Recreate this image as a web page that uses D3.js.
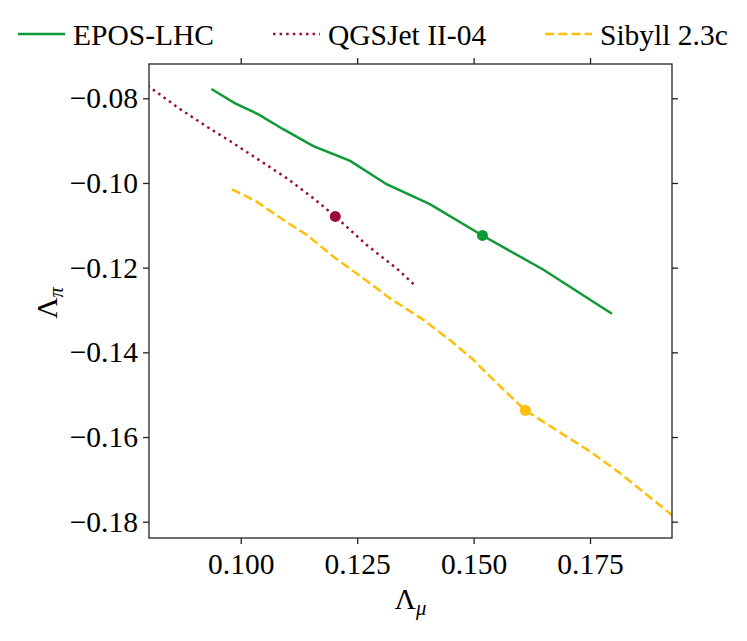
<!DOCTYPE html>
<html>
<head>
<meta charset="utf-8">
<script src="https://cdn.jsdelivr.net/npm/d3@7"></script>
<style>
  html, body { margin: 0; padding: 0; background: #fff; }
</style>
</head>
<body>
<div id="chart"></div>
<script>
// values
const eposMu = [0.0937, 0.0988, 0.1038, 0.1091, 0.1156, 0.1235, 0.1313, 0.1406, 0.1519, 0.1650, 0.1797];
const eposPi = [-0.0778, -0.0812, -0.0838, -0.0873, -0.0913, -0.0948, -0.1003, -0.1050, -0.1124, -0.1205, -0.1309];
const qgsMu = [0.0800, 0.0869, 0.0930, 0.0977, 0.1034, 0.1099, 0.1156, 0.1203, 0.1270, 0.1337, 0.1374];
const qgsPi = [-0.0770, -0.0825, -0.0869, -0.0901, -0.0942, -0.0989, -0.1036, -0.1079, -0.1146, -0.1204, -0.1242];
const sibMu = [0.0981, 0.1034, 0.1091, 0.1142, 0.1199, 0.1263, 0.1320, 0.1392, 0.1449, 0.1496, 0.1550, 0.1611, 0.1671, 0.1750, 0.1814, 0.1930];
const sibPi = [-0.1015, -0.1044, -0.1087, -0.1123, -0.1174, -0.1225, -0.1272, -0.1323, -0.1371, -0.1414, -0.1473, -0.1537, -0.1579, -0.1634, -0.1685, -0.1788];
const markMu = [0.1519, 0.1203, 0.1611];
const markPi = [-0.1124, -0.1079, -0.1537];
const modelNames = ["EPOS-LHC", "QGSJet II-04", "Sibyll 2.3c"];
const xTicks = [0.100, 0.125, 0.150, 0.175];
const yTicks = [-0.18, -0.16, -0.14, -0.12, -0.10, -0.08];

const width = 747, height = 641;
const margin = { top: 64, right: 75, bottom: 103, left: 149 };
const innerWidth = width - margin.left - margin.right;
const innerHeight = height - margin.top - margin.bottom;
const fontSize = 29.5;
const serif = "Liberation Serif";

const colors = ["#0e9b35", "#9c0a3b", "#ffbf0a"];
const dashes = [null, "2.5 4.1", "9.2 4"];

const series = [
  eposMu.map((m, i) => ({ mu: m, pi: eposPi[i] })),
  qgsMu.map((m, i) => ({ mu: m, pi: qgsPi[i] })),
  sibMu.map((m, i) => ({ mu: m, pi: sibPi[i] })),
];
const marks = markMu.map((m, i) => ({ mu: m, pi: markPi[i], color: colors[i] }));

const svg = d3.select("#chart").append("svg").attr("width", width).attr("height", height);

const x = d3.scaleLinear().domain([0.0803, 0.1926]).range([0, innerWidth]);
const y = d3.scaleLinear().domain([-0.18385, -0.0719]).range([innerHeight, 0]);

const g = svg.append("g").attr("transform", `translate(${margin.left},${margin.top})`);

g.append("clipPath").attr("id", "plot-clip")
  .append("rect").attr("width", innerWidth).attr("height", innerHeight);

const line = d3.line().x((d) => x(d.mu)).y((d) => y(d.pi));

const plot = g.append("g").attr("clip-path", "url(#plot-clip)");
series.forEach((s, i) => {
  plot.append("path")
    .datum(s)
    .attr("fill", "none")
    .attr("stroke", colors[i])
    .attr("stroke-width", 2.5)
    .attr("stroke-dasharray", dashes[i])
    .attr("d", line);
});
plot.selectAll("circle").data(marks).join("circle")
  .attr("cx", (d) => x(d.mu))
  .attr("cy", (d) => y(d.pi))
  .attr("r", 5.5)
  .attr("fill", (d) => d.color);

// axes on all four sides, ticks pointing out
function styleAxis(sel) {
  sel.attr("font-family", serif).attr("font-size", fontSize);
  sel.select(".domain").remove();
  sel.selectAll(".tick line").attr("stroke", "#222").attr("stroke-width", 1.3);
  sel.selectAll(".tick text").attr("fill", "#000");
}
function ticksOnly(sel) {
  styleAxis(sel);
  sel.selectAll(".tick text").remove();
}

g.append("g").attr("transform", `translate(0,${innerHeight})`)
  .call(d3.axisBottom(x).tickValues(xTicks).tickFormat(d3.format(".3f")).tickSize(6).tickPadding(9))
  .call(styleAxis);
g.append("g")
  .call(d3.axisTop(x).tickValues(xTicks).tickSize(6))
  .call(ticksOnly);
g.append("g")
  .call(d3.axisLeft(y).tickValues(yTicks).tickFormat(d3.format(".2f")).tickSize(6).tickPadding(5))
  .call(styleAxis);
g.append("g").attr("transform", `translate(${innerWidth},0)`)
  .call(d3.axisRight(y).tickValues(yTicks).tickSize(6))
  .call(ticksOnly);

g.append("rect")
  .attr("width", innerWidth).attr("height", innerHeight)
  .attr("fill", "none").attr("stroke", "#222").attr("stroke-width", 1.3);

// axis labels
const xLabel = svg.append("text")
  .attr("x", margin.left + innerWidth / 2)
  .attr("y", 609)
  .attr("text-anchor", "middle")
  .attr("font-family", serif)
  .attr("font-size", fontSize);
xLabel.append("tspan").text("Λ");
xLabel.append("tspan").attr("font-style", "italic").attr("font-size", fontSize * 0.7).attr("dy", 6).text("μ");

const yLabel = svg.append("text")
  .attr("transform", `translate(57,${margin.top + innerHeight / 2 + 2}) rotate(-90)`)
  .attr("text-anchor", "middle")
  .attr("font-family", serif)
  .attr("font-size", fontSize);
yLabel.append("tspan").text("Λ");
yLabel.append("tspan").attr("font-style", "italic").attr("font-size", fontSize * 0.7).attr("dy", 6).text("π");

// legend row above the frame
const legendX = [18, 273, 545];
const legend = svg.append("g").attr("font-family", serif).attr("font-size", fontSize);
modelNames.forEach((name, i) => {
  const item = legend.append("g").attr("transform", `translate(${legendX[i]},34)`);
  item.append("line")
    .attr("x1", 0).attr("x2", 47)
    .attr("stroke", colors[i]).attr("stroke-width", 2.5)
    .attr("stroke-dasharray", dashes[i]);
  item.append("text")
    .attr("x", 55).attr("y", 11)
    .text(name);
});
</script>
</body>
</html>
